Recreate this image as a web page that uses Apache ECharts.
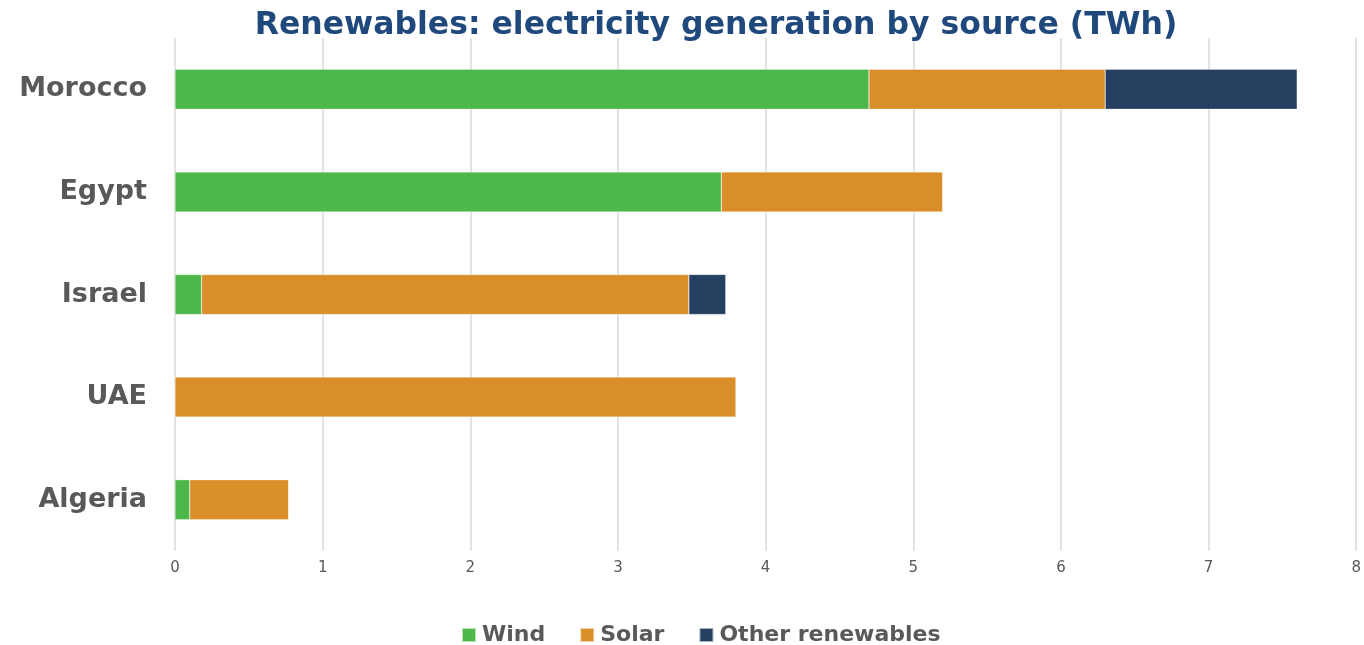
<!DOCTYPE html>
<html><head><meta charset="utf-8">
<script src="https://cdn.jsdelivr.net/npm/echarts@6/dist/echarts.min.js"></script>
<style>html,body{margin:0;padding:0;background:#fff}#c{width:1364px;height:645px}</style>
</head><body><div id="c"></div>
<script>
const categories = ['Algeria', 'UAE', 'Israel', 'Egypt', 'Morocco'];
const wind = [0.1, 0, 0.18, 3.7, 4.7];
const solar = [0.67, 3.8, 3.3, 1.5, 1.6];
const other = [0, 0, 0.25, 0, 1.3];
const xTicks = [0, 1, 2, 3, 4, 5, 6, 7, 8];

const chart = echarts.init(document.getElementById('c'));
const font = '"DejaVu Sans", sans-serif';
function s(name, data, color) {
  return {name, type: 'bar', stack: 't', data, barWidth: '39%',
    itemStyle: {color, borderColor: 'rgba(255,255,255,0.6)', borderWidth: 0.5}};
}
chart.setOption({
  animation: false,
  title: {text: 'Renewables: electricity generation by source (TWh)', left: 711, top: 5, textAlign: 'center',
    textStyle: {fontFamily: font, fontWeight: 'bold', fontSize: 31.5, color: '#1F497D'}},
  legend: {top: 619, left: 456, itemWidth: 14, itemHeight: 14, itemGap: 34, icon: 'rect',
    textStyle: {fontFamily: font, fontWeight: 'bold', fontSize: 22, color: '#595959', padding: [0, 0, 0, 1]},
    data: ['Wind', 'Solar', 'Other renewables']},
  grid: {left: 175, right: 5, top: 38, bottom: 94},
  xAxis: {type: 'value', min: xTicks[0], max: xTicks[xTicks.length - 1], interval: 1,
    axisLine: {show: false}, axisTick: {show: false},
    splitLine: {lineStyle: {color: '#dadada', width: 1.5}},
    axisLabel: {fontFamily: font, fontSize: 15, color: '#595959', margin: 10}},
  yAxis: {type: 'category', data: categories,
    axisLine: {show: false}, axisTick: {show: false},
    axisLabel: {fontFamily: font, fontWeight: 'bold', fontSize: 27, color: '#595959', margin: 28}},
  series: [s('Wind', wind, '#4DB74A'), s('Solar', solar, '#DA8E2A'), s('Other renewables', other, '#243F60')]
});
</script></body></html>
